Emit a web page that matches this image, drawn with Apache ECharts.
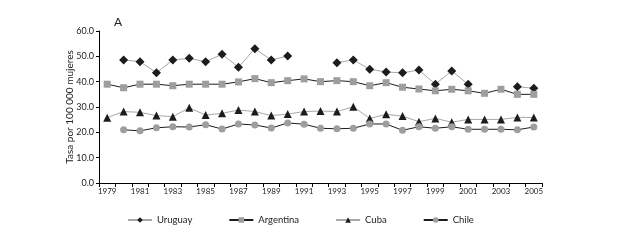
<!DOCTYPE html>
<html>
<head>
<meta charset="utf-8">
<script src="https://cdn.jsdelivr.net/npm/echarts@6/dist/echarts.min.js"></script>
<style>
  html, body { margin: 0; padding: 0; background: #fff; }
  #chart { width: 623px; height: 240px; }
</style>
</head>
<body>
<div id="chart"></div>
<script>
const years = [];
for (let y = 1979; y <= 2005; y++) years.push(String(y));

const uruguay = ['-', 48.6, 47.9, 43.5, 48.6, 49.2, 47.9, 50.8, 45.7, 53.0, 48.6, 50.1, '-', '-',
  47.5, 48.6, 44.9, 43.8, 43.5, 44.6, 39.0, 44.2, 39.0, '-', '-', 38.0, 37.4];
const argentina = [39.0, 37.6, 39.0, 39.0, 38.4, 39.0, 39.0, 39.0, 39.9, 41.2, 39.6, 40.4, 41.1, 40.0,
  40.4, 40.0, 38.4, 39.6, 37.8, 37.1, 36.4, 37.0, 36.4, 35.4, 37.0, 35.0, 35.0];
const cuba = [25.8, 28.2, 27.9, 26.6, 26.2, 29.7, 26.8, 27.5, 28.8, 28.2, 26.6, 27.2, 28.2, 28.4,
  28.2, 30.1, 25.5, 27.1, 26.4, 24.2, 25.5, 24.0, 25.1, 25.1, 25.1, 25.9, 25.9];
const chile = ['-', 21.0, 20.6, 21.8, 22.2, 22.1, 23.0, 21.3, 23.3, 22.9, 21.7, 23.7, 23.2, 21.6,
  21.4, 21.6, 23.3, 23.3, 20.8, 22.2, 21.6, 22.2, 21.2, 21.2, 21.2, 21.0, 22.1];

const chart = echarts.init(document.getElementById('chart'), null, { renderer: 'canvas' });

const FONT = 'Lato';
const BLACK = '#1c1c1c';
const GREY = '#9e9e9e';

function line(name, data, lineColor, symbol, symbolColor, size) {
  return {
    name: name,
    type: 'line',
    data: data,
    connectNulls: false,
    symbol: symbol,
    symbolSize: size,
    showSymbol: true,
    lineStyle: { color: lineColor, width: 1 },
    itemStyle: { color: symbolColor, borderWidth: 0 },
    color: symbolColor,
    z: 2
  };
}

const option = {
  animation: false,
  backgroundColor: '#fff',
  textStyle: { fontFamily: FONT },
  title: {
    text: 'A',
    left: 109,
    top: 11,
    textStyle: { fontFamily: FONT, fontSize: 12, fontWeight: 'normal', color: '#222' }
  },
  grid: { left: 99, right: 81, top: 31, bottom: 57 },
  legend: {
    left: 122,
    top: 210,
    itemWidth: 24,
    itemHeight: 7,
    itemGap: 36,
    textStyle: { fontFamily: FONT, fontSize: 9.5, color: '#222' },
    data: ['Uruguay', 'Argentina', 'Cuba', 'Chile']
  },
  xAxis: {
    type: 'category',
    data: years,
    boundaryGap: true,
    axisLine: { lineStyle: { color: '#000', width: 1 } },
    axisTick: { show: true, interval: 0, length: 4, lineStyle: { color: '#000' } },
    axisLabel: { interval: 1, fontSize: 8, color: '#222', margin: 4, fontFamily: FONT },
    splitLine: { show: false }
  },
  yAxis: {
    type: 'value',
    min: 0,
    max: 60,
    interval: 10,
    name: 'Tasa por 100 000 mujeres',
    nameLocation: 'middle',
    nameGap: 24,
    nameMoveOverlap: false,
    nameTextStyle: { fontFamily: FONT, fontSize: 10, color: '#222' },
    axisLine: { show: true, lineStyle: { color: '#000', width: 1 } },
    axisTick: { show: true, length: 3, lineStyle: { color: '#000' } },
    axisLabel: {
      fontSize: 9, color: '#222', margin: 5, fontFamily: FONT,
      formatter: function (v) { return v.toFixed(1); }
    },
    splitLine: { show: false }
  },
  series: [
    line('Uruguay', uruguay, '#a8a8a8', 'diamond', BLACK, 9),
    line('Argentina', argentina, BLACK, 'rect', GREY, 7),
    line('Cuba', cuba, '#a8a8a8', 'triangle', BLACK, 8),
    line('Chile', chile, BLACK, 'circle', GREY, 7)
  ]
};

chart.setOption(option);
</script>
</body>
</html>
